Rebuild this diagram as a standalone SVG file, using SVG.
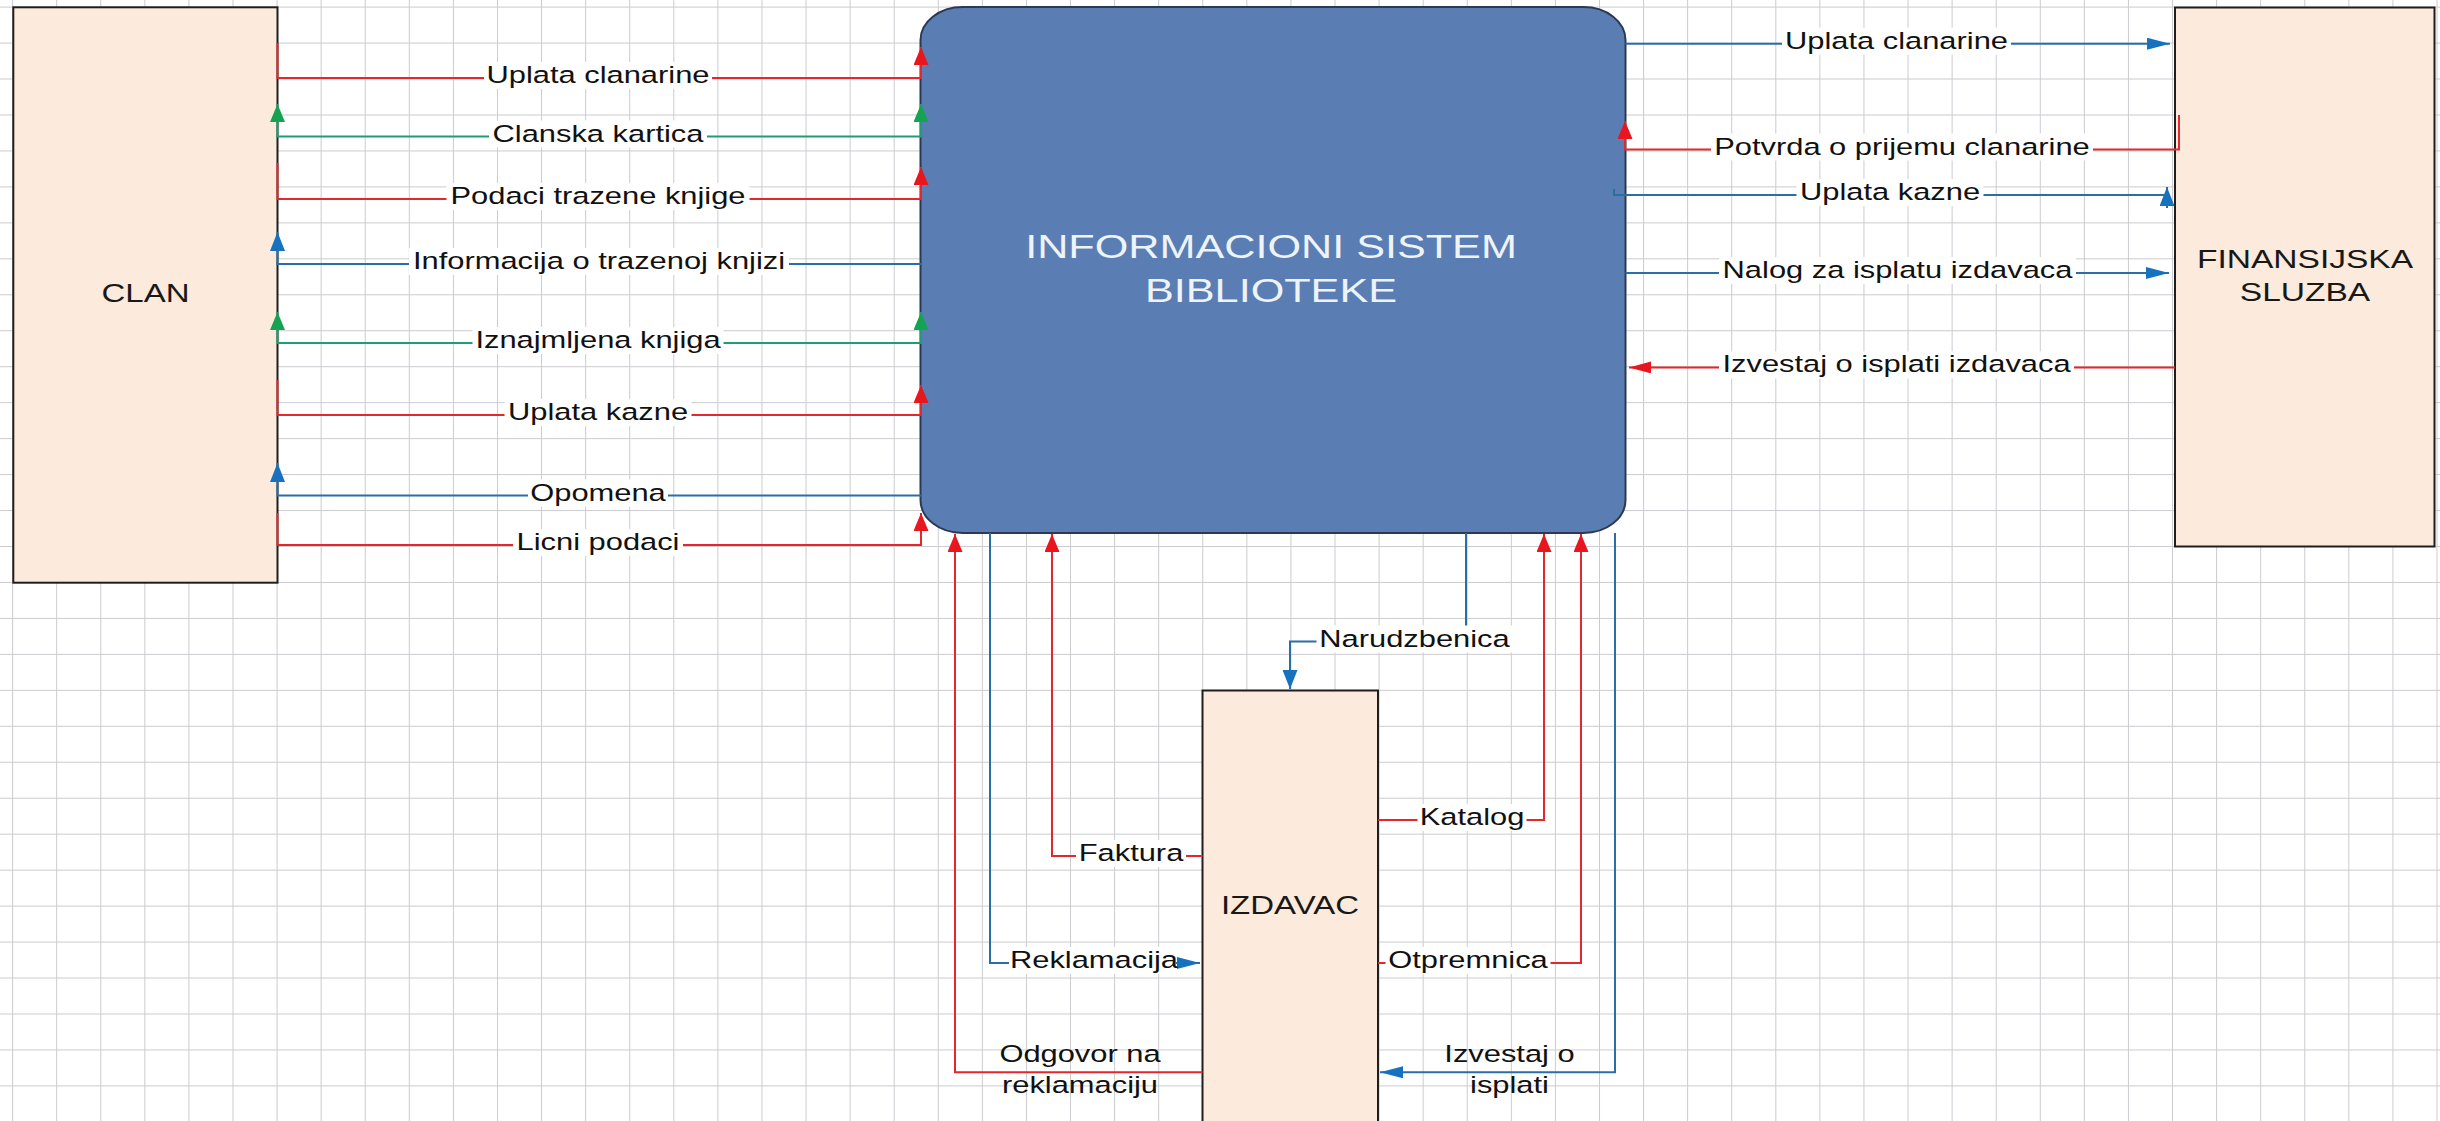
<svg xmlns="http://www.w3.org/2000/svg" width="2440" height="1121" viewBox="0 0 2440 1121">
<style>
.ent{fill:#FCEADC;stroke:#1e1e1e;stroke-width:2}
.sys{fill:#5A7EB3;stroke:#2B3A52;stroke-width:2}
.c{fill:none;stroke-width:2}
.r{stroke:#E2282D}
.g{stroke:#1E9E72}
.b{stroke:#2A6EA6}
.bg{fill:#ffffff}
.lbl{font-family:"Liberation Sans",Arial,sans-serif;font-size:24.3px;fill:#111111;text-anchor:middle}
.nt{font-family:"Liberation Sans",Arial,sans-serif;font-size:26px;fill:#181818;text-anchor:middle}
.st{font-family:"Liberation Sans",Arial,sans-serif;font-size:34px;fill:#EEF3F9;text-anchor:middle}
</style>
<defs>
<pattern id="grid" patternUnits="userSpaceOnUse" x="12.1" y="6.6" width="44.08" height="35.96">
<path d="M0.5,0 V35.96 M0,0.5 H44.08" stroke="#cbcbd0" stroke-width="1" fill="none"/>
</pattern>
<marker id="vr" markerUnits="userSpaceOnUse" markerWidth="18" markerHeight="15" viewBox="0 0 18 15" refX="18" refY="7.5" orient="auto"><path d="M0,0 L18,7.5 L0,15 z" fill="#E8161E"/></marker>
<marker id="vg" markerUnits="userSpaceOnUse" markerWidth="18" markerHeight="15" viewBox="0 0 18 15" refX="18" refY="7.5" orient="auto-start-reverse"><path d="M0,0 L18,7.5 L0,15 z" fill="#13A352"/></marker>
<marker id="vb" markerUnits="userSpaceOnUse" markerWidth="19" markerHeight="15" viewBox="0 0 19 15" refX="19" refY="7.5" orient="auto"><path d="M0,0 L19,7.5 L0,15 z" fill="#1672BF"/></marker>
<marker id="hr" markerUnits="userSpaceOnUse" markerWidth="22" markerHeight="12" viewBox="0 0 22 12" refX="22" refY="6" orient="auto"><path d="M0,0 L22,6 L0,12 z" fill="#E8161E"/></marker>
<marker id="hb" markerUnits="userSpaceOnUse" markerWidth="23" markerHeight="12" viewBox="0 0 23 12" refX="23" refY="6" orient="auto"><path d="M0,0 L23,6 L0,12 z" fill="#1672BF"/></marker>
</defs>
<rect width="2440" height="1121" fill="#ffffff"/>
<rect width="2440" height="1121" fill="url(#grid)"/>

<g id="clan">
<rect class="ent" x="13.3" y="7.3" width="264.2" height="575.4"/>
<text class="nt" transform="translate(145.5 302) scale(1.27 1)">CLAN</text>
</g>
<g id="is">
<rect class="sys" x="920.5" y="7" width="705" height="526" rx="42" ry="33"/>
<text class="st" transform="translate(1271 257.5) scale(1.27 1)">INFORMACIONI SISTEM</text>
<text class="st" transform="translate(1271 301.5) scale(1.27 1)">BIBLIOTEKE</text>
</g>
<g id="finansijska">
<rect class="ent" x="2175" y="7.5" width="259.5" height="539"/>
<text class="nt" transform="translate(2305 268.3) scale(1.29 1)">FINANSIJSKA</text>
<text class="nt" transform="translate(2305 301) scale(1.29 1)">SLUZBA</text>
</g>
<g id="izdavac">
<rect class="ent" x="1202.5" y="690.5" width="175.5" height="440"/>
<text class="nt" transform="translate(1290 914) scale(1.27 1)">IZDAVAC</text>
</g>

<g id="connectors">
<g id="c-uplata-clanarine-1">
<path class="c r" d="M277.5,43 V78 H921 V47" marker-end="url(#vr)"/>
<rect class="bg" x="484" y="62" width="228" height="27"/>
<text class="lbl" transform="translate(598 83) scale(1.27 1)">Uplata clanarine</text>
</g>
<g id="c-clanska-kartica">
<path class="c g" d="M921,104 V136.5 H277.5 V104" marker-start="url(#vg)" marker-end="url(#vg)"/>
<rect class="bg" x="489" y="120.5" width="218" height="27"/>
<text class="lbl" transform="translate(598 141.5) scale(1.27 1)">Clanska kartica</text>
</g>
<g id="c-podaci">
<path class="c r" d="M277.5,163 V199 H921 V167" marker-end="url(#vr)"/>
<rect class="bg" x="446.5" y="183" width="303" height="27"/>
<text class="lbl" transform="translate(598 204) scale(1.27 1)">Podaci trazene knjige</text>
</g>
<g id="c-informacija">
<path class="c b" d="M921,264 H277.5 V232" marker-end="url(#vb)"/>
<rect class="bg" x="409" y="248" width="380" height="27"/>
<text class="lbl" transform="translate(599 269) scale(1.27 1)">Informacija o trazenoj knjizi</text>
</g>
<g id="c-iznajmljena">
<path class="c g" d="M921,312 V343 H277.5 V312" marker-start="url(#vg)" marker-end="url(#vg)"/>
<rect class="bg" x="472.5" y="327" width="251" height="27"/>
<text class="lbl" transform="translate(598 348) scale(1.27 1)">Iznajmljena knjiga</text>
</g>
<g id="c-uplata-kazne-1">
<path class="c r" d="M277.5,380 V415 H921 V385" marker-end="url(#vr)"/>
<rect class="bg" x="504.5" y="399" width="187" height="27"/>
<text class="lbl" transform="translate(598 420) scale(1.27 1)">Uplata kazne</text>
</g>
<g id="c-opomena">
<path class="c b" d="M921,495.5 H277.5 V463" marker-end="url(#vb)"/>
<rect class="bg" x="528" y="479.5" width="140" height="27"/>
<text class="lbl" transform="translate(598 500.5) scale(1.27 1)">Opomena</text>
</g>
<g id="c-licni">
<path class="c r" d="M277.5,513 V545 H921 V513" marker-end="url(#vr)"/>
<rect class="bg" x="513" y="529" width="170" height="27"/>
<text class="lbl" transform="translate(598 550) scale(1.27 1)">Licni podaci</text>
</g>

<g id="c-uplata-clanarine-2">
<path class="c b" d="M1625.5,43.7 H2170" marker-end="url(#hb)"/>
<rect class="bg" x="1782" y="27.7" width="229" height="27"/>
<text class="lbl" transform="translate(1896.5 48.7) scale(1.27 1)">Uplata clanarine</text>
</g>
<g id="c-potvrda">
<path class="c r" d="M2179,115 V149.5 H1625 V121" marker-end="url(#vr)"/>
<rect class="bg" x="1711" y="133.5" width="382" height="27"/>
<text class="lbl" transform="translate(1902 154.5) scale(1.27 1)">Potvrda o prijemu clanarine</text>
</g>
<g id="c-uplata-kazne-2">
<path class="c b" d="M1614,189 V195 H2167 M2167,208 V187" marker-end="url(#vb)"/>
<rect class="bg" x="1796.5" y="179" width="187" height="27"/>
<text class="lbl" transform="translate(1890 200) scale(1.27 1)">Uplata kazne</text>
</g>
<g id="c-nalog">
<path class="c b" d="M1625.5,273 H2169" marker-end="url(#hb)"/>
<rect class="bg" x="1719" y="257" width="357" height="27"/>
<text class="lbl" transform="translate(1897.5 278) scale(1.27 1)">Nalog za isplatu izdavaca</text>
</g>
<g id="c-izvestaj-izdavaca">
<path class="c r" d="M2175,367.4 H1629" marker-end="url(#hr)"/>
<rect class="bg" x="1719" y="351.4" width="355" height="27"/>
<text class="lbl" transform="translate(1896.5 372.4) scale(1.27 1)">Izvestaj o isplati izdavaca</text>
</g>

<g id="c-odgovor">
<path class="c r" d="M1202.5,1072.3 H955 V534" marker-end="url(#vr)"/>
<text class="lbl" transform="translate(1080 1062) scale(1.27 1)">Odgovor na</text>
<text class="lbl" transform="translate(1080 1092.5) scale(1.27 1)">reklamaciju</text>
</g>
<g id="c-reklamacija">
<path class="c b" d="M990,533 V963 H1200" marker-end="url(#hb)"/>
<rect class="bg" x="1009" y="947" width="167" height="27"/>
<text class="lbl" transform="translate(1094 968) scale(1.27 1)">Reklamacija</text>
</g>
<g id="c-faktura">
<path class="c r" d="M1202.5,856 H1052 V534" marker-end="url(#vr)"/>
<rect class="bg" x="1076" y="840" width="110" height="27"/>
<text class="lbl" transform="translate(1131 861) scale(1.27 1)">Faktura</text>
</g>
<g id="c-narudzbenica">
<path class="c b" d="M1466,533 V641.4 H1290 V689" marker-end="url(#vb)"/>
<rect class="bg" x="1316.5" y="625.5" width="196" height="27"/>
<text class="lbl" transform="translate(1414.5 646.5) scale(1.27 1)">Narudzbenica</text>
</g>
<g id="c-katalog">
<path class="c r" d="M1378,820 H1544 V534" marker-end="url(#vr)"/>
<rect class="bg" x="1417.5" y="804" width="109" height="27"/>
<text class="lbl" transform="translate(1472 825) scale(1.27 1)">Katalog</text>
</g>
<g id="c-otpremnica">
<path class="c r" d="M1378,963 H1581 V534" marker-end="url(#vr)"/>
<rect class="bg" x="1385.5" y="947" width="165" height="27"/>
<text class="lbl" transform="translate(1468 968) scale(1.27 1)">Otpremnica</text>
</g>
<g id="c-izvestaj-isplati">
<path class="c b" d="M1615,533 V1072.3 H1380" marker-end="url(#hb)"/>
<text class="lbl" transform="translate(1509.5 1062) scale(1.27 1)">Izvestaj o</text>
<text class="lbl" transform="translate(1509.5 1092.5) scale(1.27 1)">isplati</text>
</g>
</g>
</svg>
